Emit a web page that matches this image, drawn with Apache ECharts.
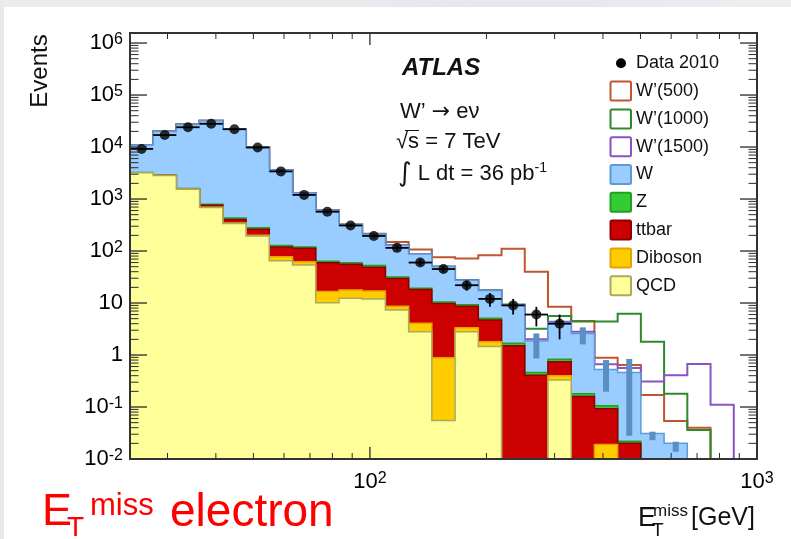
<!DOCTYPE html>
<html>
<head>
<meta charset="utf-8">
<script src="https://cdn.jsdelivr.net/npm/echarts@6.0.0/dist/echarts.min.js"></script>
<style>
html,body{margin:0;padding:0;background:#ffffff;}
#chart{width:791px;height:539px;}
</style>
</head>
<body>
<div id="chart"></div>
<script>
// ---- DATA ----
// bin edges of the missing-ET histogram, GeV (27 log-uniform bins, 24 .. 1000)
const binEdges = [24, 27.54, 31.62, 36.31, 41.69, 47.86, 54.95, 63.10, 72.44, 83.18, 95.50, 109.65, 125.89, 144.54, 165.96, 190.55, 218.78, 251.19, 288.40, 331.13, 380.19, 436.52, 501.19, 575.44, 660.69, 758.58, 870.96, 1000];

// background components (events per bin), stacked bottom -> top
const qcd      = [3200, 2850, 1550, 690, 340, 194, 65, 54, 10.1, 12.3, 12, 7.3, 2.8, 0.055, 2.8, 1.45, 0, 0, 0.33, 0, 0, 0, 0, 0, 0, 0, 0];
const diboson  = [3, 4, 5, 6, 6, 6, 13, 8, 6.5, 5.5, 5, 1.4, 1.3, 0.835, 0.55, 0.35, 0, 0, 0.07, 0, 0.019, 0, 0, 0, 0, 0, 0];
const ttbar    = [2, 4, 8, 64, 59, 62, 42, 51, 43, 38, 32, 21, 14, 8.9, 5.35, 2.9, 1.5, 0.41, 0.34, 0.16, 0.074, 0.02, 0, 0, 0, 0, 0];
const zjets    = [40, 40, 35, 30, 25, 18, 8, 7, 4, 4, 3.5, 2, 1.2, 0.7, 0.6, 0.4, 0.18, 0.05, 0.09, 0.02, 0.013, 0.002, 0, 0, 0, 0, 0];
const wjets    = [7750, 17100, 25400, 31200, 21600, 9520, 3470, 1180, 536, 260, 157, 98, 68, 39.5, 18.2, 12.3, 7.4, 1.39, 3.37, 2.42, 0.42, 0.44, 0.031, 0.02, 0, 0, 0];

// W' signal yields (drawn stacked on top of the total background)
const wprime500  = [0.5, 0.6, 0.8, 1, 1.2, 1.5, 2, 2.5, 3, 4, 5, 20, 20, 26, 44.5, 65.6, 101, 38, 4.3, 1.9, 0.36, 0.18, 0.14, 0.034, 0.04, 0, 0];
const wprime1000 = [0.02, 0.02, 0.03, 0.03, 0.04, 0.05, 0.05, 0.06, 0.07, 0.08, 0.1, 0.12, 0.15, 0.18, 0.2, 0.25, 0.3, 1.35, 1.4, 1.8, 3.87, 5.74, 1.77, 0.16, 0.036, 0, 0];
const wprime1500 = [0.01, 0.01, 0.01, 0.01, 0.01, 0.01, 0.01, 0.01, 0.02, 0.02, 0.02, 0.03, 0.03, 0.04, 0.05, 0.06, 0.08, 0.15, 0.15, 0.2, 0.14, 0.1, 0.28, 0.39, 0.67, 0.11, 0];

// Data 2010 and its errors
const data2010    = [9200, 17000, 24000, 28000, 22000, 9800, 3400, 1200, 570, 310, 195, 115, 60, 45, 22, 12, 9, 6, 4, null, null, null, null, null, null, null, null];
const data2010Err = [96, 130, 155, 167, 148, 99, 58, 35, 24, 18, 14, 11, 7.7, 6.7, 4.7, 3.5, 3, 2.45, 2, null, null, null, null, null, null, null, null];

// background uncertainty bars in the tail (low / high)
const mcErrLow  = [null, null, null, null, null, null, null, null, null, null, null, null, null, null, null, null, null, 0.86, null, 1.6, 0.197, 0.028, 0.023, 0.0138, null, null, null];
const mcErrHigh = [null, null, null, null, null, null, null, null, null, null, null, null, null, null, null, null, null, 2.6, null, 3.4, 0.80, 0.84, 0.0335, 0.0215, null, null, null];

// axis ticks and labels
const yMajorTicks = [0.01, 0.1, 1, 10, 100, 1000, 10000, 100000, 1000000];
const yTickLabels = ['10{s|-2}', '10{s|-1}', '1', '10', '10{s|2}', '10{s|3}', '10{s|4}', '10{s|5}', '10{s|6}'];
const xMajorTicks = [100, 1000];
const xTickLabels = ['10{s|2}', '10{s|3}'];
const yMinorTicks = [];
for (let e = -2; e <= 5; e++) for (let m = 2; m <= 9; m++) yMinorTicks.push(m * Math.pow(10, e));
const xMinorTicks = [30, 40, 50, 60, 70, 80, 90, 200, 300, 400, 500, 600, 700, 800, 900];

// ---- rendering ----
const FONT = '"Liberation Sans", Arial, Helvetica, sans-serif';
const X_MIN = 24, X_MAX = 1000, Y_MIN = 0.01, Y_MAX = 1.56e6;
const nBins = binEdges.length - 1;
const binCenters = binEdges.slice(0, -1).map((e, i) => Math.sqrt(e * binEdges[i + 1]));

const bgComponents = [qcd, diboson, ttbar, zjets, wjets];
const bgNames = ['QCD', 'Diboson', 'ttbar', 'Z', 'W'];
const bgFill = ['#FFFF99', '#FFCC00', '#CC0000', '#33CC33', '#99CCFF'];
const bgLine = ['#A9A95F', '#E3A400', '#8E0000', '#23A023', '#5E9BD6'];
const cumBg = bgComponents.map((_, k) => binCenters.map((_, i) => {
  let s = 0; for (let j = 0; j <= k; j++) s += bgComponents[j][i]; return s;
}));
const bgTotal = cumBg[cumBg.length - 1];
const signals = [wprime500, wprime1000, wprime1500];
const sigNames = ['W\u2019(500)', 'W\u2019(1000)', 'W\u2019(1500)'];
const sigColors = ['#C0562E', '#2C8A2C', '#8A52C6'];
const sigTotals = signals.map(s => s.map((v, i) => v + bgTotal[i]));

function stepPoints(api, tops, closed) {
  const pts = [];
  let last = nBins - 1;
  if (!closed) { while (last > 0 && tops[last] <= Y_MIN) last--; }
  if (closed) pts.push(api.coord([binEdges[0], Y_MIN]));
  for (let i = 0; i <= last; i++) {
    const v = Math.max(tops[i], Y_MIN);
    pts.push(api.coord([binEdges[i], v]));
    pts.push(api.coord([binEdges[i + 1], v]));
  }
  pts.push(api.coord([binEdges[last + 1], Y_MIN]));
  return pts;
}

function idxOf(arr, v) {
  for (let i = 0; i < arr.length; i++) if (Math.abs(Math.log10(v) - Math.log10(arr[i])) < 1e-4) return i;
  return -1;
}

const labelRich = { s: { fontSize: 16, fontFamily: FONT, color: '#000', verticalAlign: 'top', lineHeight: 9 } };

const series = [
  { // W' signal lines
    name: 'signals', type: 'custom', coordinateSystem: 'cartesian2d', silent: true, z: 2,
    encode: { x: 0, y: 1 },
    data: signals.map((_, k) => [100, 1, k]),
    renderItem: (params, api) => {
      const k = api.value(2);
      return { type: 'polyline', shape: { points: stepPoints(api, sigTotals[k], false) },
               style: { stroke: sigColors[k], lineWidth: 2, fill: null } };
    }
  },
  { // stacked backgrounds (drawn top cumulative first)
    name: 'background', type: 'custom', coordinateSystem: 'cartesian2d', silent: true, z: 3,
    encode: { x: 0, y: 1 },
    data: [4, 3, 2, 1, 0].map(k => [100, 1, k]),
    renderItem: (params, api) => {
      const k = api.value(2);
      return { type: 'polygon', shape: { points: stepPoints(api, cumBg[k], true) },
               style: { fill: bgFill[k], stroke: bgLine[k], lineWidth: 1.5 } };
    }
  },
  { // tail uncertainty bars
    name: 'mcerr', type: 'custom', coordinateSystem: 'cartesian2d', silent: true, z: 4,
    encode: { x: 0, y: 1 },
    data: binCenters.map((c, i) => [c, mcErrHigh[i], mcErrLow[i]]).filter(d => d[1] != null),
    renderItem: (params, api) => {
      const t = api.coord([api.value(0), api.value(1)]);
      const b = api.coord([api.value(0), api.value(2)]);
      return { type: 'rect', shape: { x: t[0] - 3, y: t[1], width: 6, height: b[1] - t[1] },
               style: { fill: '#5B8FC3' } };
    }
  },
  { // data error bars
    name: 'dataerr', type: 'custom', coordinateSystem: 'cartesian2d', silent: true, z: 5,
    encode: { x: 0, y: 1 },
    data: binCenters.map((c, i) => [c, data2010[i], data2010Err[i], i]).filter(d => d[1] != null),
    renderItem: (params, api) => {
      const c = api.value(0), v = api.value(1), e = api.value(2), i = api.value(3);
      const l = api.coord([binEdges[i], v]), r = api.coord([binEdges[i + 1], v]);
      const lo = api.coord([c, Math.max(v - e, Y_MIN)]), hi = api.coord([c, v + e]);
      return { type: 'group', children: [
        { type: 'line', shape: { x1: l[0], y1: l[1], x2: r[0], y2: r[1] }, style: { stroke: '#000', lineWidth: 1.8 } },
        { type: 'line', shape: { x1: lo[0], y1: lo[1], x2: hi[0], y2: hi[1] }, style: { stroke: '#000', lineWidth: 1.8 } }
      ] };
    }
  },
  {
    name: 'Data 2010', type: 'scatter', silent: true, z: 6, symbol: 'circle', symbolSize: 10,
    itemStyle: { color: '#000' },
    data: binCenters.map((c, i) => [c, data2010[i]]).filter(d => d[1] != null)
  },
  { // ticks and frame
    name: 'frame', type: 'custom', coordinateSystem: 'cartesian2d', silent: true, z: 8,
    encode: { x: 0, y: 1 },
    data: [[100, 1]],
    renderItem: (params, api) => {
      const ch = [];
      const L = (a, b, w) => ({ type: 'line', shape: { x1: a[0], y1: a[1], x2: b[0], y2: b[1] }, style: { stroke: '#2a2a2a', lineWidth: w } });
      yMajorTicks.forEach(v => {
        const l = api.coord([X_MIN, v]), r = api.coord([X_MAX, v]);
        ch.push(L(l, [l[0] + 17, l[1]], 1.3), L(r, [r[0] - 17, r[1]], 1.3));
      });
      yMinorTicks.forEach(v => {
        const l = api.coord([X_MIN, v]), r = api.coord([X_MAX, v]);
        ch.push(L(l, [l[0] + 8.5, l[1]], 1), L(r, [r[0] - 8.5, r[1]], 1));
      });
      xMajorTicks.forEach(v => {
        const b = api.coord([v, Y_MIN]), t = api.coord([v, Y_MAX]);
        ch.push(L(b, [b[0], b[1] - 12], 1.3), L(t, [t[0], t[1] + 12], 1.3));
      });
      xMinorTicks.forEach(v => {
        const b = api.coord([v, Y_MIN]), t = api.coord([v, Y_MAX]);
        ch.push(L(b, [b[0], b[1] - 6], 1), L(t, [t[0], t[1] + 6], 1));
      });
      const tl = api.coord([X_MIN, Y_MAX]), br = api.coord([X_MAX, Y_MIN]);
      ch.push({ type: 'rect', shape: { x: tl[0], y: tl[1], width: br[0] - tl[0], height: br[1] - tl[1] },
                style: { fill: null, stroke: '#333', lineWidth: 2 } });
      return { type: 'group', children: ch };
    }
  }
];

// page frame (slide background strips) + legend drawn as graphic elements
const graphic = [
  { type: 'rect', z: -10, shape: { x: 0, y: 0, width: 791, height: 7 },
    style: { fill: { type: 'linear', x: 0, y: 0, x2: 1, y2: 0, colorStops: [
      { offset: 0, color: '#ececec' }, { offset: 0.7, color: '#e6e6ee' }, { offset: 1, color: '#eeeeF2' } ] } } },
  { type: 'rect', z: -10, shape: { x: 0, y: 0, width: 4, height: 539 }, style: { fill: '#e9e9e9' } }
];
const legendRows = [{ name: 'Data 2010', kind: 'dot' }]
  .concat(sigNames.map((n, k) => ({ name: n, kind: 'line', stroke: sigColors[k] })))
  .concat([4, 3, 2, 1, 0].map(k => ({ name: bgNames[k], kind: 'fill', fill: bgFill[k], stroke: bgLine[k] })));
legendRows.forEach((row, k) => {
  const cy = 63.3 + k * 27.8;
  if (row.kind === 'dot') {
    graphic.push({ type: 'circle', z: 100, shape: { cx: 621, cy: cy, r: 5 }, style: { fill: '#000' } });
  } else {
    graphic.push({ type: 'rect', z: 100, shape: { x: 610.5, y: cy - 9.5, width: 20.5, height: 19, r: 1.5 },
      style: { fill: row.kind === 'fill' ? row.fill : '#fff', stroke: row.stroke, lineWidth: 2 } });
  }
  graphic.push({ type: 'text', z: 100, x: 636, y: cy,
    style: { text: row.name, font: '18px ' + FONT, fill: '#111', align: 'left', verticalAlign: 'middle' } });
});

const txt = (x, y, text, font, extra) => Object.assign({ type: 'text', z: 100, x: x, y: y,
  style: Object.assign({ text: text, font: font, fill: '#111', align: 'left', verticalAlign: 'middle' }, extra || {}) });

graphic.push(
  Object.assign(txt(40, 71, 'Events', '24px ' + FONT, { align: 'center' }), { rotation: Math.PI / 2 }),
  txt(402, 68.3, 'ATLAS', 'italic bold 24px ' + FONT),
  txt(400, 112, 'W\u2019 {a|\u2192} e\u03bd', '22px ' + FONT, { rich: { a: { fontSize: 22, fontFamily: '"DejaVu Sans"', fill: '#111' } } }),
  txt(396, 142, '\u221as = 7 TeV', '22px ' + FONT),
  { type: 'line', z: 100, shape: { x1: 405, y1: 130.5, x2: 419, y2: 130.5 }, style: { stroke: '#111', lineWidth: 1 } },
  txt(398, 174, '{i|\u222b} L dt = 36 pb{s|-1}', '22px ' + FONT, { rich: {
    i: { fontSize: 26, fontFamily: '"DejaVu Sans"', fill: '#111' },
    s: { fontSize: 14, fontFamily: FONT, fill: '#111', verticalAlign: 'top', lineHeight: 8 } } }),
  // x-axis title E_T^miss [GeV]
  txt(638, 518.5, 'E', '27px ' + FONT),
  txt(653, 511, 'miss', '17px ' + FONT),
  txt(652, 530.5, 'T', '19px ' + FONT),
  txt(691, 518.5, '[GeV]', '25px ' + FONT),
  // red caption
  txt(42, 513, 'E', '45px ' + FONT, { fill: '#FF0000' }),
  txt(67, 528, 'T', '28px ' + FONT, { fill: '#FF0000' }),
  txt(90, 506, 'miss', '31px ' + FONT, { fill: '#FF0000' }),
  txt(170, 513.5, 'electron', '46px ' + FONT, { fill: '#FF0000' })
);

const chart = echarts.init(document.getElementById('chart'), null, { renderer: 'canvas' });
chart.setOption({
  animation: false,
  backgroundColor: '#ffffff',
  grid: { left: 130, top: 33, right: 34, bottom: 80, containLabel: false, outerBoundsMode: 'none' },
  xAxis: {
    type: 'log', logBase: 10, min: X_MIN, max: X_MAX,
    axisLine: { show: false }, axisTick: { show: false }, splitLine: { show: false },
    axisLabel: {
      margin: 12, color: '#000', fontFamily: FONT, fontSize: 22, lineHeight: 22, rich: labelRich,
      showMinLabel: true, showMaxLabel: true,
      formatter: v => { const i = idxOf(xMajorTicks, v); return i < 0 ? '' : xTickLabels[i]; }
    }
  },
  yAxis: {
    type: 'log', logBase: 10, min: Y_MIN, max: Y_MAX,
    axisLine: { show: false }, axisTick: { show: false }, splitLine: { show: false },
    axisLabel: {
      margin: 7, color: '#000', fontFamily: FONT, fontSize: 22, lineHeight: 22, rich: labelRich,
      showMinLabel: true, showMaxLabel: true,
      formatter: v => { const i = idxOf(yMajorTicks, v); return i < 0 ? '' : yTickLabels[i]; }
    }
  },
  graphic: graphic,
  series: series
});
</script>
</body>
</html>
